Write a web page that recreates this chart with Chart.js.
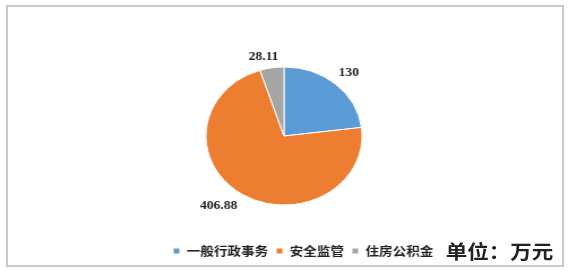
<!DOCTYPE html>
<html>
<head>
<meta charset="utf-8">
<script src="https://cdn.jsdelivr.net/npm/chart.js@4/dist/chart.umd.min.js"></script>
<style>
  html, body { margin: 0; padding: 0; background: #fff; }
  body { width: 568px; height: 271px; position: relative; overflow: hidden; }
  #frame { position: absolute; left: 6px; top: 5px; width: 554px; height: 258px; border: 2px solid #C8C8C8; }
  #wrap { position: absolute; left: 0; top: 0; width: 502px; height: 271px; transform: scaleX(1.1315); transform-origin: 0 0; }
  #unit { position: absolute; left: 394px; top: 238px; font: bold 19px "Noto Sans CJK SC", sans-serif; color: #222; line-height: 26px; white-space: nowrap; }
</style>
</head>
<body>
<div id="frame"></div>
<div id="wrap">
  <canvas id="pieChart" width="502" height="271"></canvas>
  <div id="unit">单位：万元</div>
</div>
<script>
  // --- Data ---
  const categories = ['一般行政事务', '安全监管', '住房公积金'];
  const amounts = [130, 406.88, 28.11];
  const sliceColors = ['#5B9BD5', '#ED7D31', '#A5A5A5'];

  // label nudges per slice: [extra radius, angle shift in degrees]
  const labelNudge = [[16, 1], [22, 7], [12, -4]];

  // --- Value labels outside slices ---
  const outsideLabels = {
    id: 'outsideLabels',
    afterDatasetsDraw(chart) {
      const ctx = chart.ctx;
      const meta = chart.getDatasetMeta(0);
      ctx.save();
      ctx.font = 'bold 12px "Liberation Serif", serif';
      ctx.fillStyle = '#222';
      ctx.textAlign = 'center';
      ctx.textBaseline = 'middle';
      meta.data.forEach((arc, i) => {
        const p = arc.getProps(['x', 'y', 'startAngle', 'endAngle', 'outerRadius'], true);
        const mid = (p.startAngle + p.endAngle) / 2 + labelNudge[i][1] * Math.PI / 180;
        const d = p.outerRadius + labelNudge[i][0];
        ctx.fillText(String(amounts[i]), p.x + Math.cos(mid) * d, p.y + Math.sin(mid) * d);
      });
      ctx.restore();
    }
  };

  // --- Move legend to the left of the unit text ---
  const legendShift = {
    id: 'legendShift',
    afterLayout(chart) {
      const lg = chart.legend;
      const dx = 146 - lg.left;
      lg.left += dx;
      lg.right += dx;
    }
  };

  new Chart(document.getElementById('pieChart'), {
    type: 'pie',
    data: {
      labels: categories,
      datasets: [{
        data: amounts,
        backgroundColor: sliceColors,
        borderColor: '#fff',
        borderWidth: 1,
        radius: 69
      }]
    },
    options: {
      responsive: false,
      animation: false,
      devicePixelRatio: 1,
      layout: { padding: { top: 34, bottom: 4, left: 0, right: 0 } },
      plugins: {
        legend: {
          position: 'bottom',
          align: 'start',
          labels: {
            boxWidth: 6,
            boxHeight: 6,
            padding: 7,
            color: '#222',
            font: { size: 12, weight: 'bold', family: '"Noto Sans CJK SC", sans-serif' }
          }
        },
        tooltip: { enabled: false }
      }
    },
    plugins: [outsideLabels, legendShift]
  });
</script>
</body>
</html>
